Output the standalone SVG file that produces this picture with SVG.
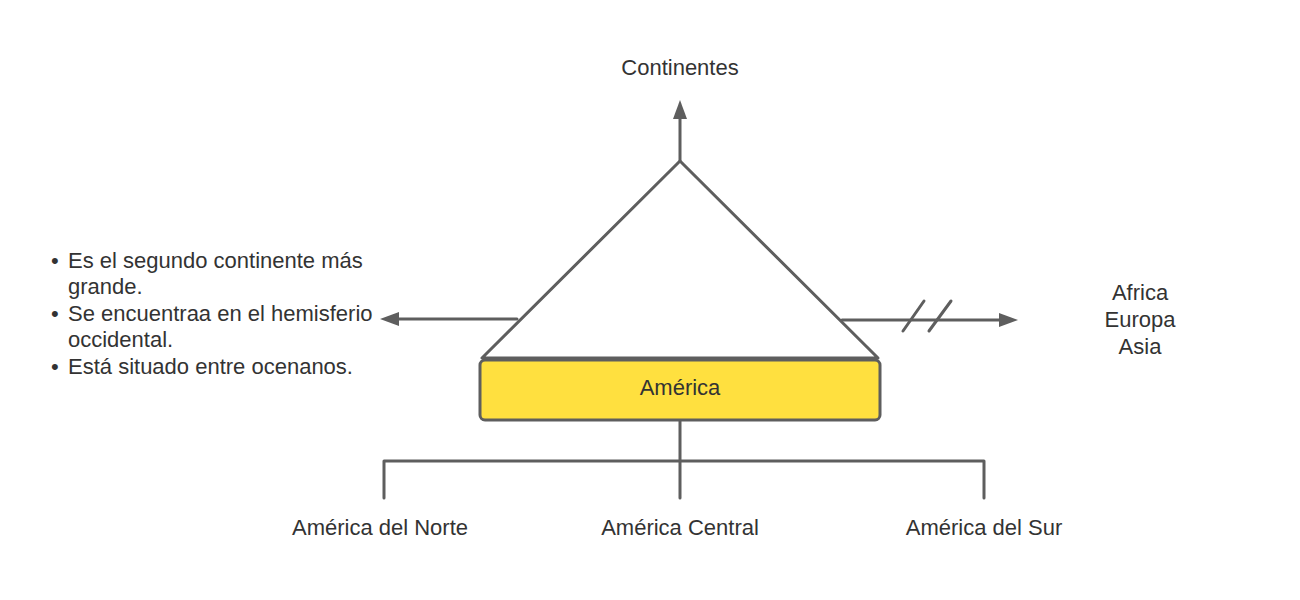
<svg xmlns="http://www.w3.org/2000/svg" width="1300" height="600" viewBox="0 0 1300 600">
<style>
.ln{stroke:#5e5e5e;stroke-width:3;fill:none;stroke-linecap:round;stroke-linejoin:round}
.t{font-family:"Liberation Sans",Arial,sans-serif;font-size:22px;fill:#333333}
.c{text-anchor:middle}
</style>
<rect width="1300" height="600" fill="#ffffff"/>
<g id="connectors">
<line class="ln" x1="680" y1="161" x2="680" y2="118"/>
<path d="M680,100 L673,119 L687,119 Z" fill="#5e5e5e"/>
<line class="ln" x1="517" y1="319" x2="398" y2="319"/>
<path d="M380,319 L399,312 L399,326 Z" fill="#5e5e5e"/>
<line class="ln" x1="842" y1="320" x2="1000" y2="320"/>
<path d="M1018,320 L999,313 L999,327 Z" fill="#5e5e5e"/>
<line class="ln" x1="903" y1="331" x2="924" y2="301"/>
<line class="ln" x1="929" y1="331" x2="951" y2="301"/>
<line class="ln" x1="680" y1="420" x2="680" y2="498"/>
<polyline class="ln" points="384,498 384,461 984,461 984,498"/>
</g>
<g id="triangle">
<polygon class="ln" points="680,161 482,358 878,358" fill="#ffffff"/>
</g>
<g id="america">
<rect x="480" y="360" width="400" height="60" rx="5" fill="#ffe03f" stroke="#5e5e5e" stroke-width="3"/>
<text class="t c" x="680" y="395">América</text>
</g>
<g id="continentes">
<text class="t c" x="680" y="75">Continentes</text>
</g>
<g id="bullets">
<text class="t" x="51" y="268">•</text>
<text class="t" x="68" y="268">Es el segundo continente más</text>
<text class="t" x="68" y="294">grande.</text>
<text class="t" x="51" y="321">•</text>
<text class="t" x="68" y="321">Se encuentraa en el hemisferio</text>
<text class="t" x="68" y="347">occidental.</text>
<text class="t" x="51" y="374">•</text>
<text class="t" x="68" y="374">Está situado entre ocenanos.</text>
</g>
<g id="otros">
<text class="t c" x="1140" y="300">Africa</text>
<text class="t c" x="1140" y="327">Europa</text>
<text class="t c" x="1140" y="354">Asia</text>
</g>
<g id="norte"><text class="t c" x="380" y="535">América del Norte</text></g>
<g id="central"><text class="t c" x="680" y="535">América Central</text></g>
<g id="sur"><text class="t c" x="984" y="535">América del Sur</text></g>
</svg>
